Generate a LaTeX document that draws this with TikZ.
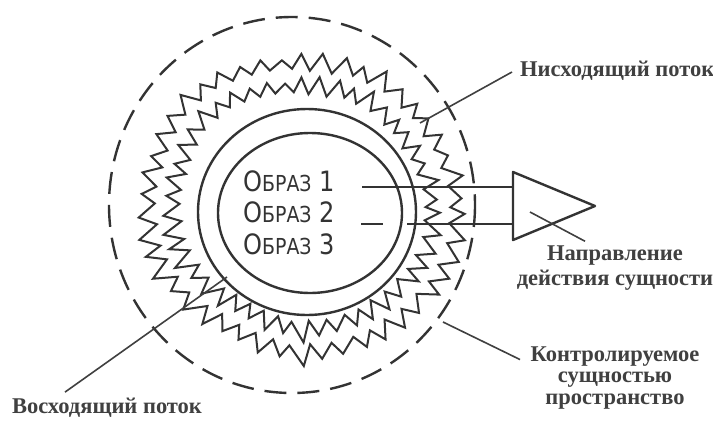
\documentclass[tikz,border=0pt]{standalone}
\usepackage{fontspec}
\setmainfont{Liberation Serif}
\newfontfamily\hand{DejaVu Sans}
\begin{document}
\begin{tikzpicture}[x=1pt,y=-1pt,
 lbl/.style={font=\bfseries\fontsize{22.5}{21.5}\selectfont, text=black!75, inner sep=0pt, align=center},
 hw/.style={font=\hand\fontsize{28}{28}\selectfont, inner sep=0pt, text=black!80, anchor=base west, xscale=0.86},
 ln/.style={line width=2.4pt, draw=black!80},
 zz/.style={line width=2.0pt, draw=black!80, line join=miter},
 lead/.style={line width=1.6pt, draw=black!75}]
\useasboundingbox (0,0) rectangle (713,429);
\fill[white] (0,0) rectangle (713,429);
% controlled space (dashed)
\draw[ln, dash pattern=on 22pt off 11pt] (292,205) ellipse [x radius=183, y radius=188];
% zigzag flows
\pgfmathsetseed{5}
\begin{scope}[shift={(302,206)}]
\foreach \i in {0,...,91}{
  \pgfmathsetmacro\aa{3.913*\i+1.1*rand}
  \pgfmathsetmacro\jj{2*rand+3*sin(2*\aa+30)+2.5*sin(5*\aa+10)}
  \pgfmathsetmacro\ro{142+(15+4*rand)*mod(\i,2)+\jj}
  \pgfmathsetmacro\ri{\ro-24}
  \coordinate (zo\i) at ({1.03*cos(\aa)*\ro},{0.98*sin(\aa)*\ro});
  \coordinate (zi\i) at ({1.03*cos(\aa)*\ri},{0.98*sin(\aa)*\ri});
}
\draw[zz] (zo0) \foreach \i in {1,...,91} {-- (zo\i)} -- cycle;
\draw[zz] (zi0) \foreach \i in {1,...,91} {-- (zi\i)} -- cycle;
\end{scope}
% inner circles
\fill[white] (307,212) ellipse [x radius=109, y radius=103];
\draw[ln] (307,212) ellipse [x radius=109, y radius=103];
\draw[ln] (310,213) ellipse [x radius=92, y radius=80];
% images
\node[hw] (im1) at (243,191) {О{\fontsize{22}{22}\selectfont БРАЗ} 1};
\node[hw] (im2) at (243,222) {О{\fontsize{22}{22}\selectfont БРАЗ} 2};
\node[hw] (im3) at (243,254) {О{\fontsize{22}{22}\selectfont БРАЗ} 3};
% triangle
\coordinate (ta) at (513,172);
\coordinate (tb) at (595,206);
\coordinate (tc) at (513,240);
\draw[ln, line join=round] (ta) -- (tb) -- (tc) -- cycle;
\coordinate (t1) at (513,187);
\coordinate (t2) at (513,224);
\coordinate (s1) at (362,187);
\coordinate (s2) at (361,224);
\coordinate (s2a) at (383,224);
\coordinate (s2b) at (407,224);
\draw[ln] (s1) -- (t1);
\draw[ln] (s2) -- (s2a);
\draw[ln] (s2b) -- (t2);
% labels
\node[lbl, anchor=west] (down) at (520,71) {Нисходящий поток};
\coordinate (pdown) at (420,123);
\draw[lead] (pdown) -- ([xshift=-8pt,yshift=-1pt]down.west);
\node[lbl, font=\bfseries\fontsize{22.5}{25.5}\selectfont] (dir) at (615,268) {Направление\\действия сущности};
\coordinate (pdir) at (530,212);
\draw[lead] (pdir) -- ([xshift=-30pt,yshift=4pt]dir.north);
\node[lbl] (ctrl) at (615,378) {Контролируемое\\сущностью\\пространство};
\coordinate (pc) at (443,322);
\draw[lead] (pc) -- ([xshift=-95pt,yshift=-13pt]ctrl.north);
\node[lbl] (up) at (107,408) {Восходящий поток};
\coordinate (pup) at (227,277);
\draw[lead] (pup) -- ([xshift=-42pt,yshift=6pt]up.north);
\end{tikzpicture}
\end{document}
